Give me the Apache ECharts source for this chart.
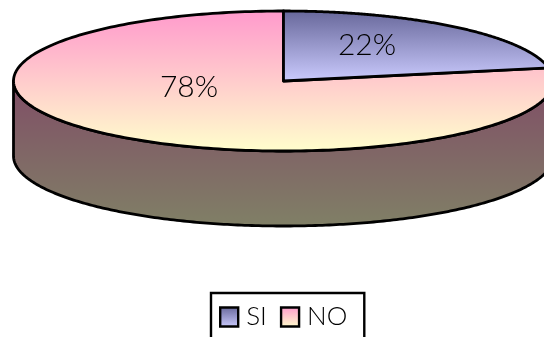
<!DOCTYPE html>
<html>
<head>
<meta charset="utf-8">
<style>html,body{margin:0;padding:0;background:#fff}#chart{width:544px;height:337px}</style>
<script src="https://cdn.jsdelivr.net/npm/echarts@6/dist/echarts.min.js"></script>
</head>
<body>
<div id="chart"></div>
<script>
// Share of answers, in percent
const categories = ['SI', 'NO'];
const values = [22, 78];

// Tilted disc drawn from the shares: angles run clockwise from twelve o'clock
const disc = { cx: 283.5, cy: 81, rx: 270, ry: 70, depth: 75 };
const labelAnchors = [[367, 45], [189, 87]];
const font = 'Lato, "Noto Sans", sans-serif';

const total = values.reduce((a, b) => a + b, 0);

function vGrad(top, bottom) {
  return { type: 'linear', x: 0, y: 0, x2: 0, y2: 1,
    colorStops: [{ offset: 0, color: top }, { offset: 1, color: bottom }] };
}
const faceFills = [vGrad('#666699', '#CCCCFF'), vGrad('#FF99CC', '#FFFFCC')];
const sideFill = vGrad('#804D66', '#808066');

function rimPoint(angle, drop) {
  return [disc.cx + disc.rx * Math.sin(angle), disc.cy - disc.ry * Math.cos(angle) + (drop || 0)];
}
function rim(from, to, drop) {
  const steps = 240, pts = [];
  for (let i = 0; i <= steps; i++) pts.push(rimPoint(from + (to - from) * i / steps, drop));
  return pts;
}
const outline = { stroke: '#000', lineWidth: 2.8, lineJoin: 'round' };

function renderSlice(index) {
  return function () {
    const before = values.slice(0, index).reduce((a, b) => a + b, 0);
    const start = before / total * 2 * Math.PI;
    const end = (before + values[index]) / total * 2 * Math.PI;
    const children = [];
    // Only the front half of the wall is visible
    const wallFrom = Math.max(start, Math.PI / 2);
    const wallTo = Math.min(end, 3 * Math.PI / 2);
    if (wallTo > wallFrom) {
      const wall = rim(wallFrom, wallTo, 0).concat(rim(wallTo, wallFrom, disc.depth));
      children.push({ type: 'polygon', shape: { points: wall },
        style: Object.assign({ fill: sideFill }, outline) });
    }
    const face = [[disc.cx, disc.cy]].concat(rim(start, end, 0));
    children.push({ type: 'polygon', shape: { points: face },
      style: Object.assign({ fill: faceFills[index] }, outline) });
    children.push({ type: 'text', style: {
      text: values[index] + '%', x: labelAnchors[index][0], y: labelAnchors[index][1],
      align: 'center', verticalAlign: 'middle',
      font: '300 30px ' + font, fill: '#000' } });
    return { type: 'group', children: children };
  };
}

const chart = echarts.init(document.getElementById('chart'), null, { renderer: 'canvas' });
chart.setOption({
  animation: false,
  backgroundColor: '#fff',
  legend: {
    data: categories,
    left: 211, top: 293,
    orient: 'horizontal',
    padding: [11, 17, 30, 8],
    itemGap: 13,
    itemWidth: 18, itemHeight: 19,
    borderColor: '#000', borderWidth: 2.4,
    selectedMode: false,
    icon: 'rect',
    itemStyle: { borderColor: '#000', borderWidth: 2.4 },
    textStyle: { fontFamily: font, fontWeight: 300, fontSize: 26, color: '#000', padding: [0, 0, 0, 3] }
  },
  series: categories.map((name, i) => ({
    type: 'custom',
    name: name,
    coordinateSystem: 'none',
    silent: true,
    z: i === 1 ? 1 : 2,
    itemStyle: { color: faceFills[i] },
    data: [values[i]],
    renderItem: renderSlice(i)
  }))
});
</script>
</body>
</html>
